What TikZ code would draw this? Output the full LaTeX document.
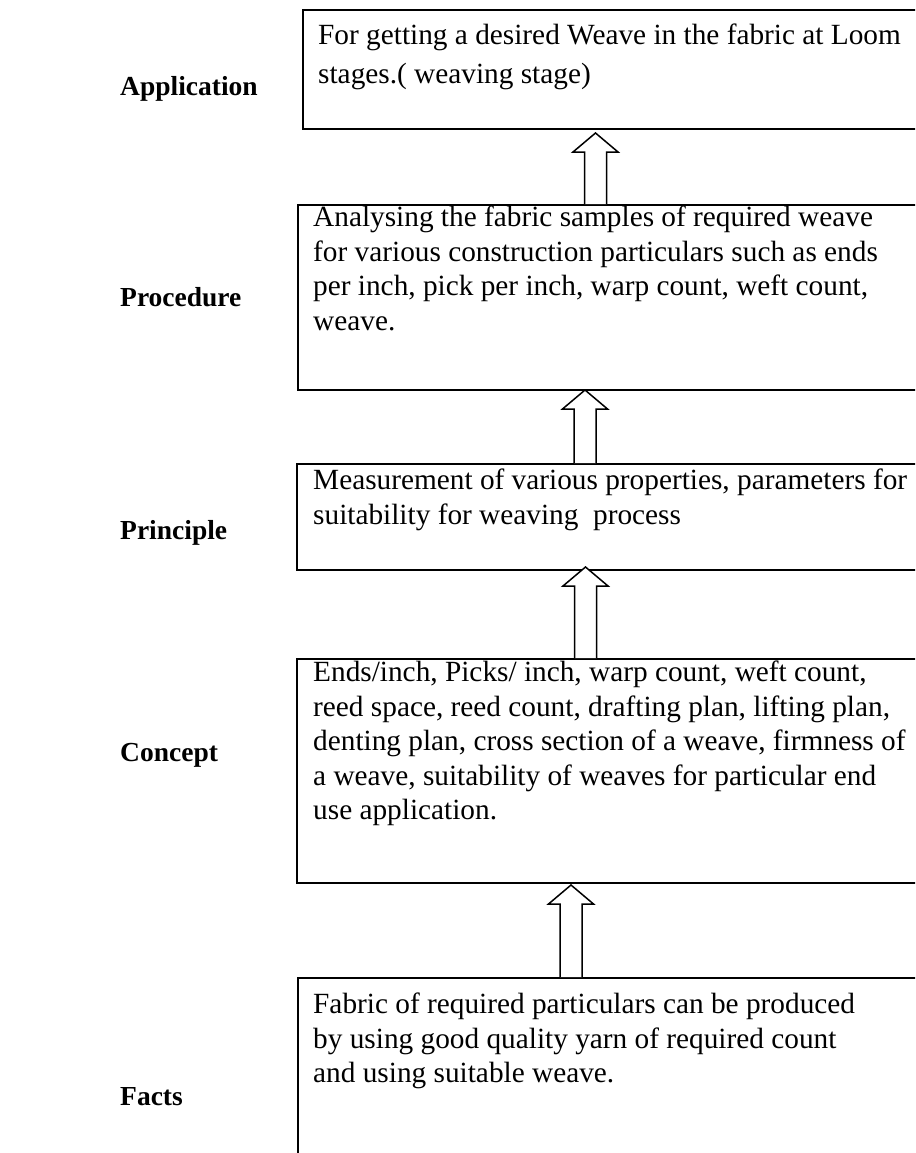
\documentclass[tikz,border=0pt]{standalone}
\usepackage{fontspec}
\setmainfont{Liberation Serif}
\usetikzlibrary{calc}
\begin{document}
\begin{tikzpicture}[x=1pt,y=-1pt,
  box/.style={draw, line width=2pt, anchor=north west, inner sep=0pt},
  boxtext/.style={anchor=base west, inner sep=0pt, align=left,
    font=\fontsize{29.3}{34.5}\selectfont},
  lab/.style={anchor=base west, inner sep=0pt,
    font=\fontsize{27.5}{33}\selectfont\bfseries},
  barrow/.style={draw, line width=1.5pt, fill=white, line join=miter}]
\useasboundingbox (0,0) rectangle (915,1153);
\clip (0,0) rectangle (915,1153);
% boxes
\node[box, minimum width=640pt, minimum height=119pt] (b1) at (302,9) {};
\node[box, minimum width=640pt, minimum height=185pt] (b2) at (297,204) {};
\node[box, minimum width=640pt, minimum height=106pt] (b3) at (296,463) {};
\node[box, minimum width=640pt, minimum height=224pt] (b4) at (296,658) {};
\node[box, minimum width=640pt, minimum height=220pt] (b5) at (297,977) {};
% box texts (anchor = baseline of last line)
\node[boxtext, font=\fontsize{29.3}{39}\selectfont] (t1) at (318,84) {For getting a desired Weave in the fabric at Loom\\stages.( weaving stage)};
\node[boxtext] (t2) at (313,330) {Analysing the fabric samples of required weave\\for various construction particulars such as ends\\per inch, pick per inch, warp count, weft count,\\weave.};
\node[boxtext] (t3) at (313,524) {Measurement of various properties, parameters for\\suitability for weaving\ \ process};
\node[boxtext] (t4) at (313,819.5) {Ends/inch, Picks/ inch, warp count, weft count,\\reed space, reed count, drafting plan, lifting plan,\\denting plan, cross section of a weave, firmness of\\a weave, suitability of weaves for particular end\\use application.};
\node[boxtext] (t5) at (313,1082.5) {Fabric of required particulars can be produced\\by using good quality yarn of required count\\and using suitable weave.};
% labels
\node[lab] (l1) at (120,96) {Application};
\node[lab] (l2) at (120,306) {Procedure};
\node[lab] (l3) at (120,539) {Principle};
\node[lab] (l4) at (120,761) {Concept};
\node[lab] (l5) at (120,1105) {Facts};
% block arrows: shaft half-width 11, head half-width 22.5, head height 19
\coordinate (a1b) at (595.5,204);
\coordinate (a1t) at (595.5,133);
\coordinate (a2b) at (585,463);
\coordinate (a2t) at (585,390);
\coordinate (a3b) at (585.5,658);
\coordinate (a3t) at (585.5,567);
\coordinate (a4b) at (571,977);
\coordinate (a4t) at (571,885);
\foreach \s/\t in {a1b/a1t,a2b/a2t,a3b/a3t,a4b/a4t}{
  \draw[barrow] ($(\s)+(-11,0)$) -- ($(\t)+(-11,19)$) -- ($(\t)+(-22.5,19)$)
    -- (\t) -- ($(\t)+(22.5,19)$) -- ($(\t)+(11,19)$) -- ($(\s)+(11,0)$);
}
\end{tikzpicture}
\end{document}
